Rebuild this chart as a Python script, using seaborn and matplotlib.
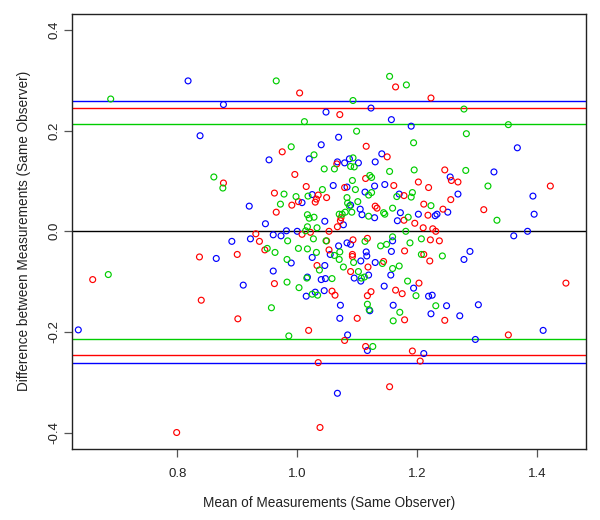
import matplotlib
matplotlib.use("Agg")
import matplotlib.pyplot as plt
import seaborn as sns
import pandas as pd

# ---- data ----
blue_x = [0.818, 0.877, 0.838, 1.048, 1.123, 1.157, 1.069, 1.040, 0.953, 1.020, 1.141, 1.067, 1.079,
          1.087, 1.102, 1.130, 1.060, 1.083, 1.129, 1.146, 1.113, 1.190, 1.367, 1.328, 1.255, 1.268,
          1.393, 1.251, 1.395, 1.202, 1.230, 1.233, 1.361, 1.384, 1.288, 1.278, 1.194, 1.219, 1.225,
          1.249, 1.302, 1.223, 1.271, 1.410, 1.297, 1.211, 1.084, 1.117, 1.067, 0.635, 0.865, 1.025,
          1.170, 1.008, 0.920, 1.046, 1.077, 1.089, 1.105, 1.108, 1.129, 1.172, 1.167, 0.947, 0.982,
          1.000, 0.960, 0.973, 0.922, 0.891, 1.069, 1.083, 1.089, 1.159, 1.055, 1.115, 1.116, 1.106,
          1.025, 0.990, 1.130, 1.157, 1.095, 1.106, 1.119, 1.046, 1.017, 1.040, 1.047, 0.960, 0.910,
          1.015, 1.030, 1.045, 1.145, 1.156, 1.160, 1.121, 1.072, 1.071]
blue_y = [0.299, 0.252, 0.190, 0.237, 0.245, 0.222, 0.187, 0.172, 0.142, 0.144, 0.154, 0.138, 0.136,
          0.144, 0.136, 0.138, 0.091, 0.088, 0.090, 0.093, 0.078, 0.209, 0.166, 0.118, 0.108, 0.074,
          0.070, 0.038, 0.034, 0.034, 0.031, 0.034, -0.009, 0.000, -0.040, -0.056, -0.113, -0.129, -0.127,
          -0.148, -0.146, -0.164, -0.168, -0.197, -0.215, -0.243, -0.206, -0.237, -0.322, -0.196, -0.054, 0.073,
          0.074, 0.057, 0.050, 0.020, 0.013, 0.052, 0.044, 0.033, 0.027, 0.037, 0.021, 0.015, 0.001,
          0.000, -0.007, -0.009, -0.015, -0.020, -0.029, -0.023, -0.026, -0.019, -0.046, -0.041, -0.049, -0.059,
          -0.052, -0.063, -0.062, -0.040, -0.093, -0.099, -0.087, -0.068, -0.091, -0.096, -0.094, -0.079, -0.107,
          -0.129, -0.121, -0.118, -0.109, -0.087, -0.147, -0.158, -0.147, -0.173]

red_x = [0.877, 1.164, 1.004, 1.071, 0.975, 1.115, 1.150, 1.066, 0.996, 1.114, 1.015, 1.079, 1.161,
         0.962, 1.223, 1.246, 1.257, 1.268, 1.202, 1.219, 1.422, 1.178, 1.256, 1.211, 1.243, 1.311,
         1.218, 1.178, 1.196, 1.210, 1.226, 1.231, 1.222, 1.237, 1.179, 1.211, 1.221, 1.203, 1.448,
         1.179, 1.246, 1.352, 1.192, 1.205, 1.019, 1.079, 1.114, 1.035, 1.154, 1.038, 0.799, 0.659,
         0.837, 0.840, 1.035, 1.032, 1.030, 1.049, 0.991, 1.002, 0.965, 1.073, 1.072, 1.067, 1.130,
         1.133, 1.053, 0.931, 1.008, 1.022, 0.937, 1.049, 1.093, 1.117, 0.900, 0.946, 1.053, 1.092,
         1.092, 1.144, 1.118, 1.089, 1.033, 0.962, 1.058, 1.063, 1.117, 1.123, 1.164, 1.175, 0.901,
         1.100]
red_y = [0.096, 0.287, 0.275, 0.232, 0.158, 0.169, 0.148, 0.134, 0.113, 0.105, 0.089, 0.087, 0.091,
         0.076, 0.265, 0.122, 0.101, 0.098, 0.098, 0.087, 0.090, 0.071, 0.063, 0.054, 0.044, 0.043,
         0.032, 0.022, 0.016, 0.007, 0.005, 0.000, -0.017, -0.019, -0.039, -0.046, -0.059, -0.103, -0.103,
         -0.176, -0.177, -0.206, -0.238, -0.258, -0.197, -0.217, -0.229, -0.261, -0.309, -0.390, -0.400, -0.096,
         -0.051, -0.137, 0.072, 0.064, 0.058, 0.067, 0.052, 0.059, 0.038, 0.027, 0.021, 0.009, 0.050,
         0.046, 0.000, -0.005, -0.006, -0.002, -0.020, -0.019, -0.017, -0.014, -0.046, -0.037, -0.037, -0.046,
         -0.050, -0.060, -0.071, -0.080, -0.068, -0.104, -0.119, -0.127, -0.128, -0.120, -0.117, -0.124, -0.174,
         -0.173]

green_x = [0.689, 0.861, 0.876, 0.965, 1.154, 1.093, 1.012, 1.099, 0.990, 1.028, 1.093, 1.089, 1.095,
           1.045, 1.062, 1.154, 1.092, 1.121, 1.124, 1.097, 1.042, 1.124, 1.182, 1.278, 1.352, 1.282,
           1.194, 1.195, 1.281, 1.318, 1.192, 1.190, 1.223, 1.185, 1.333, 1.181, 1.207, 1.188, 1.207,
           1.242, 1.184, 1.198, 1.231, 0.986, 1.126, 0.685, 0.978, 0.998, 1.018, 1.083, 1.119, 1.166,
           0.972, 1.017, 1.028, 1.020, 1.070, 1.075, 1.084, 1.087, 1.101, 1.080, 1.091, 1.119, 1.144,
           1.146, 1.159, 1.017, 1.033, 1.014, 0.984, 1.027, 1.048, 1.113, 1.159, 1.139, 1.149, 0.950,
           0.963, 1.002, 1.017, 1.032, 1.062, 1.071, 1.070, 0.983, 1.142, 1.094, 1.102, 1.107, 1.112,
           1.077, 1.037, 1.016, 1.058, 0.983, 1.003, 1.025, 1.034, 1.170, 1.159, 1.171, 1.117, 1.120,
           0.957, 1.160]
green_y = [0.263, 0.108, 0.086, 0.299, 0.308, 0.260, 0.218, 0.199, 0.168, 0.152, 0.146, 0.129, 0.128,
           0.124, 0.124, 0.119, 0.101, 0.111, 0.107, 0.083, 0.083, 0.077, 0.291, 0.243, 0.212, 0.194,
           0.176, 0.122, 0.121, 0.090, 0.077, 0.068, 0.051, 0.028, 0.022, 0.000, -0.015, -0.023, -0.046,
           -0.049, -0.099, -0.128, -0.148, -0.208, -0.229, -0.086, 0.074, 0.069, 0.070, 0.067, 0.072, 0.069,
           0.054, 0.033, 0.028, 0.026, 0.034, 0.034, 0.056, 0.050, 0.059, 0.038, 0.038, 0.030, 0.037,
           0.034, 0.046, 0.009, 0.007, 0.001, -0.019, -0.015, -0.019, -0.020, -0.011, -0.029, -0.026, -0.034,
           -0.042, -0.034, -0.035, -0.042, -0.048, -0.041, -0.056, -0.056, -0.064, -0.062, -0.080, -0.093, -0.091,
           -0.071, -0.077, -0.093, -0.094, -0.101, -0.112, -0.125, -0.127, -0.069, -0.074, -0.161, -0.145, -0.156,
           -0.152, -0.178]

groups = ["blue", "red", "green"]
colors = ["#0000FF", "#FF0000", "#00CD00"]
upper_loa = [0.260, 0.2445, 0.213]
lower_loa = [-0.261, -0.246, -0.215]

x_ticks = [0.8, 1.0, 1.2, 1.4]
y_ticks = [-0.4, -0.2, 0.0, 0.2, 0.4]
x_label = "Mean of Measurements (Same Observer)"
y_label = "Difference between Measurements (Same Observer)"

# ---- build table ----
df = pd.concat([
    pd.DataFrame({"mean": blue_x, "diff": blue_y, "group": "blue"}),
    pd.DataFrame({"mean": red_x, "diff": red_y, "group": "red"}),
    pd.DataFrame({"mean": green_x, "diff": green_y, "group": "green"}),
], ignore_index=True)

sns.set_style("ticks")
plt.rcParams["font.family"] = ["Liberation Sans", "DejaVu Sans"]

fig = plt.figure(figsize=(6, 5.2), dpi=100)
ax = fig.add_axes([0.1205, 0.1373, 0.8557, 0.8358])

sns.scatterplot(data=df, x="mean", y="diff", hue="group", hue_order=groups,
                palette=dict(zip(groups, colors)), s=18, linewidth=0.85,
                legend=False, ax=ax, zorder=3)
for coll in ax.collections:
    fc = coll.get_facecolors()
    coll.set_edgecolors(fc)
    coll.set_facecolors("none")

ax.axhline(0, color="black", lw=1.0, zorder=2)
for c, u, l in zip(colors, upper_loa, lower_loa):
    ax.axhline(u, color=c, lw=1.0, zorder=2)
    ax.axhline(l, color=c, lw=1.0, zorder=2)

ax.set_xlim(0.625, 1.481)
ax.set_ylim(-0.432, 0.432)
ax.set_xticks(x_ticks)
ax.set_xticklabels([f"{v:.1f}" for v in x_ticks])
ax.set_yticks(y_ticks)
ax.set_yticklabels([f"{v:.1f}" for v in y_ticks], rotation=90, va="center")

for sp in ax.spines.values():
    sp.set_visible(True)
    sp.set_color("#222222")
    sp.set_linewidth(1.0)

ax.tick_params(axis="both", direction="out", length=5.8, width=0.9,
               color="#555555", labelsize=9.5, labelcolor="#222222")
ax.tick_params(axis="x", pad=8)
ax.tick_params(axis="y", pad=2.5)

ax.set_xlabel(x_label, fontsize=9.8, color="#222222", labelpad=12)
ax.set_ylabel(y_label, fontsize=9.8, color="#222222", labelpad=13)

fig.savefig("out.png", dpi=100, facecolor="white")
